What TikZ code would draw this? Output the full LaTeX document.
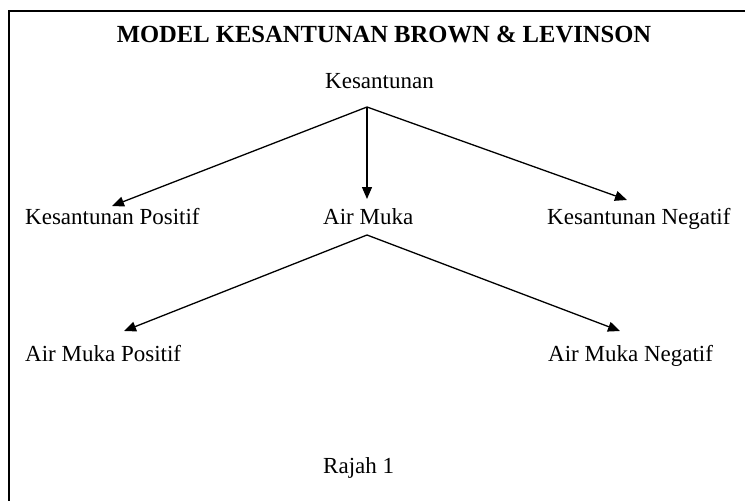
\documentclass[tikz,border=0pt]{standalone}
\usepackage{fontspec}
\setmainfont{Liberation Serif}
\usetikzlibrary{arrows.meta}
\begin{document}
\begin{tikzpicture}[x=1pt,y=1pt,
  lbl/.style={inner sep=0pt,anchor=base west,font=\fontsize{23}{26}\selectfont},
  ttl/.style={inner sep=0pt,anchor=base,font=\fontsize{24.6}{28}\selectfont\bfseries},
  conn/.style={line width=1.3pt,-{Triangle[length=12pt,width=10pt]}}]
\useasboundingbox (0,0) rectangle (745,-501);
\clip (0,0) rectangle (745,-501);
\draw[line width=1.6pt] (9,-11) rectangle (780,-540);
\node[ttl] (title) at (384,-42) {MODEL KESANTUNAN BROWN \& LEVINSON};
\node[lbl] (kes) at (325,-88) {Kesantunan};
\node[lbl] (kpos) at (25,-224) {Kesantunan Positif};
\node[lbl] (am) at (323,-224) {Air Muka};
\node[lbl] (kneg) at (547,-224) {Kesantunan Negatif};
\node[lbl] (ampos) at (25,-361) {Air Muka Positif};
\node[lbl] (amneg) at (548,-361) {Air Muka Negatif};
\node[lbl] (rajah) at (323,-473) {Rajah 1};
\coordinate (k0) at (367,-107);
\coordinate (a0) at (367,-235);
\coordinate (t1) at (112,-206);
\coordinate (t2) at (367,-199);
\coordinate (t3) at (627,-200);
\coordinate (t4) at (124,-331);
\coordinate (t5) at (620,-331);
\draw[conn] (k0) -- (t1);
\draw[conn] (k0) -- (t2);
\draw[conn] (k0) -- (t3);
\draw[conn] (a0) -- (t4);
\draw[conn] (a0) -- (t5);
\end{tikzpicture}
\end{document}
